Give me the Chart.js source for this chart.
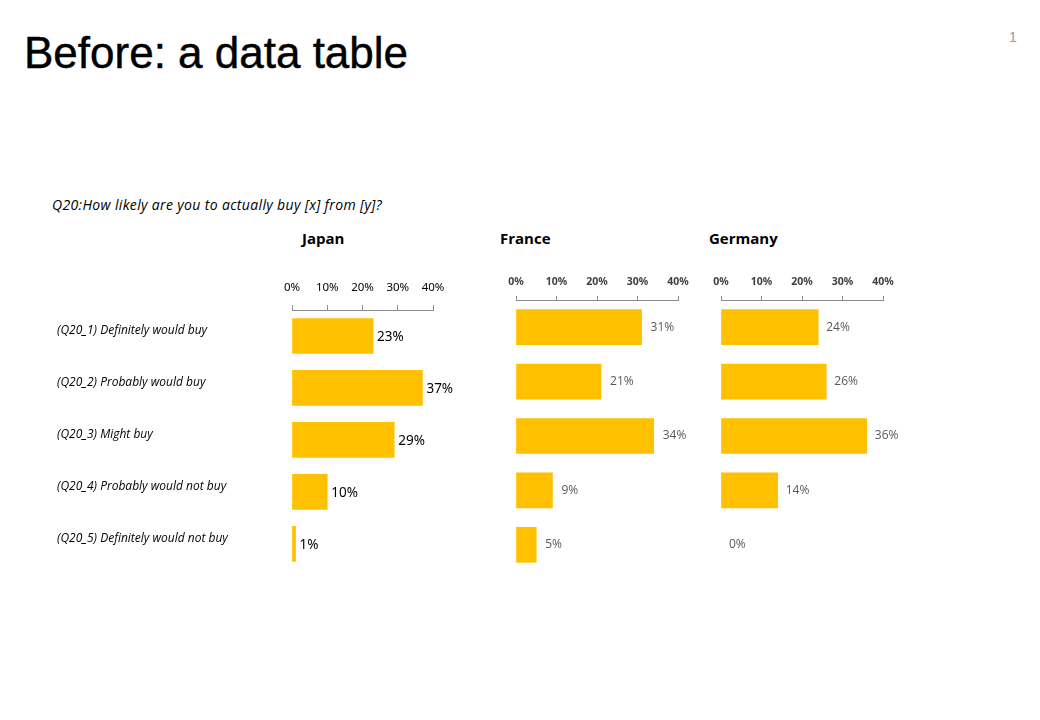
<!DOCTYPE html>
<html>
<head>
<meta charset="utf-8">
<script src="https://cdn.jsdelivr.net/npm/chart.js@4.4.1/dist/chart.umd.min.js"></script>
<style>
  html, body { margin: 0; padding: 0; background: #fff; }
  body { width: 1040px; height: 720px; position: relative; overflow: hidden; font-family: 'Open Sans', sans-serif; }
  .abs { position: absolute; white-space: nowrap; }
  #title { left: 24px; top: 28px; font-family: 'Liberation Sans', Arial, sans-serif; font-size: 44px; color: #000; -webkit-text-stroke: 0.45px #000; }
  #page { left: 1009px; top: 29px; font-family: 'Liberation Sans', Arial, sans-serif; font-size: 14px; color: #999; }
  #question { left: 52px; top: 195px; font-style: italic; font-size: 14px; letter-spacing: 0.35px; color: #000; }
  .country { top: 228px; font-weight: bold; font-size: 15px; color: #000; }
  canvas { position: absolute; }
</style>
</head>
<body>
<div id="title" class="abs">Before: a data table</div>
<div id="page" class="abs">1</div>
<div id="question" class="abs">Q20:How likely are you to actually buy [x] from [y]?</div>
<div class="abs country" style="left:302px">Japan</div>
<div class="abs country" style="left:500px">France</div>
<div class="abs country" style="left:709px">Germany</div>

<canvas id="japan" style="left:50px; top:260px; width:430px; height:320px"></canvas>
<canvas id="france" style="left:495px; top:250px; width:215px; height:330px"></canvas>
<canvas id="germany" style="left:700px; top:250px; width:240px; height:330px"></canvas>

<script>
// answer categories (same for all three countries)
const categories = [
  '(Q20_1) Definitely would buy',
  '(Q20_2) Probably would buy',
  '(Q20_3) Might buy',
  '(Q20_4) Probably would not buy',
  '(Q20_5) Definitely would not buy',
];

// percent of respondents
const japanValues = [23, 37, 29, 10, 1];
const franceValues = [31, 21, 34, 9, 5];
const germanyValues = [24, 26, 36, 14, 0];

const axisTicks = [0, 10, 20, 30, 40];

const BAR_COLOR = '#FFC000';

/**
 * Draws "NN%" just right of each bar
 */
const barValueLabels = {
  id: 'barValueLabels',
  afterDatasetsDraw(chart, args, opts) {
    const { ctx } = chart;
    const meta = chart.getDatasetMeta(0);
    const values = chart.data.datasets[0].data;
    ctx.save();
    ctx.font = opts.font;
    ctx.fillStyle = opts.color;
    ctx.textAlign = 'left';
    ctx.textBaseline = 'middle';
    meta.data.forEach((bar, i) => {
      ctx.fillText(values[i] + '%', bar.x + opts.offset, bar.y + (opts.dy || 0));
    });
    ctx.restore();
  },
};

function createCountryChart(canvasId, values, cfg) {
  const canvas = document.getElementById(canvasId);
  canvas.width = parseInt(canvas.style.width);
  canvas.height = parseInt(canvas.style.height);

  return new Chart(canvas.getContext('2d'), {
    type: 'bar',
    plugins: [barValueLabels],
    data: {
      labels: categories,
      datasets: [
        {
          data: values,
          // a 0% answer shows no bar at all
          backgroundColor: (c) => (c.raw === 0 ? 'rgba(0,0,0,0)' : BAR_COLOR),
          borderWidth: 0,
          barThickness: 35,
        },
      ],
    },
    options: {
      indexAxis: 'y',
      responsive: false,
      animation: false,
      events: [],
      layout: { padding: cfg.padding },
      plugins: {
        legend: { display: false },
        tooltip: { enabled: false },
        barValueLabels: cfg.valueLabels,
      },
      scales: {
        x: {
          position: 'top',
          min: axisTicks[0],
          max: axisTicks[axisTicks.length - 1],
          afterBuildTicks: (scale) => {
            scale.ticks = axisTicks.map((v) => ({ value: v }));
          },
          afterFit: (scale) => {
            scale.height = cfg.xAxisHeight;
          },
          grid: {
            drawOnChartArea: false,
            drawTicks: true,
            tickLength: cfg.tickLength,
            color: '#8c8c8c',
          },
          border: { display: true, color: '#8c8c8c' },
          ticks: {
            padding: cfg.tickPadding,
            color: cfg.tickColor,
            font: cfg.tickFont,
            maxRotation: 0,
            callback: (v) => v + '%',
          },
        },
        y: {
          display: cfg.showCategories,
          afterFit: (scale) => {
            scale.width = cfg.yAxisWidth || 0;
          },
          grid: { display: false },
          border: { display: false },
          ticks: {
            crossAlign: 'far',
            labelOffset: -5.5,
            color: '#000',
            font: { family: 'Open Sans', style: 'italic', size: 12 },
          },
        },
      },
    },
  });
}

createCountryChart('japan', japanValues, {
  padding: { left: 7, right: 47, top: 0, bottom: 9 },
  showCategories: true,
  yAxisWidth: 235,
  xAxisHeight: 50,
  tickLength: 5,
  tickPadding: 10,
  tickColor: '#000',
  tickFont: { family: 'Noto Sans', size: 11.5 },
  valueLabels: { font: '13.5px "Noto Sans"', color: '#000', offset: 4, dy: 1 },
});

createCountryChart('france', franceValues, {
  padding: { left: 21, right: 32, top: 0, bottom: 8 },
  showCategories: false,
  xAxisHeight: 50,
  tickLength: 4,
  tickPadding: 8,
  tickColor: '#404040',
  tickFont: { family: 'Noto Sans', size: 10.5, weight: 'bold' },
  valueLabels: { font: '12px "Open Sans"', color: '#595959', offset: 9, dy: 0 },
});

createCountryChart('germany', germanyValues, {
  padding: { left: 21, right: 57, top: 0, bottom: 8 },
  showCategories: false,
  xAxisHeight: 50,
  tickLength: 4,
  tickPadding: 8,
  tickColor: '#404040',
  tickFont: { family: 'Noto Sans', size: 10.5, weight: 'bold' },
  valueLabels: { font: '12px "Open Sans"', color: '#595959', offset: 8, dy: 0 },
});
</script>
</body>
</html>
